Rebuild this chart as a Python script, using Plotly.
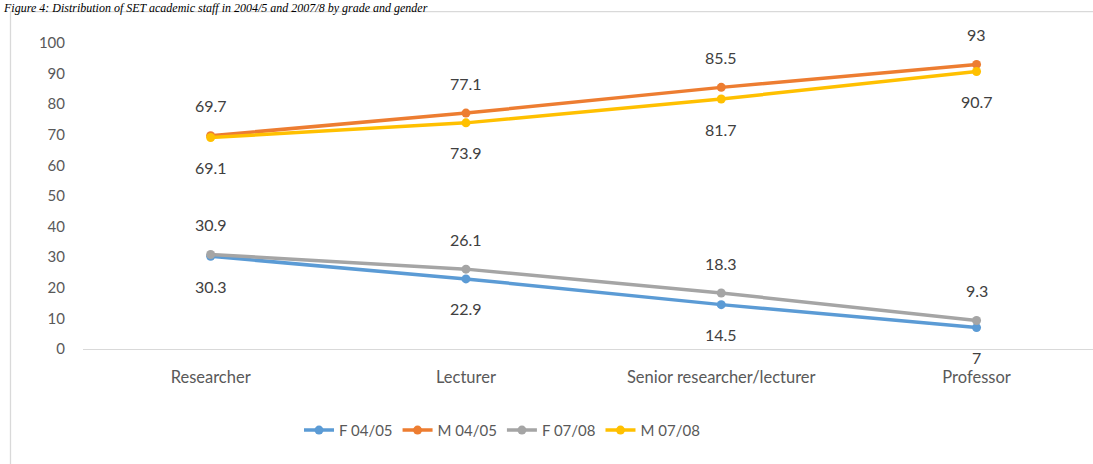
import plotly.graph_objects as go

categories = ["Researcher", "Lecturer", "Senior researcher/lecturer", "Professor"]
f_0405 = [30.3, 22.9, 14.5, 7]
m_0405 = [69.7, 77.1, 85.5, 93]
f_0708 = [30.9, 26.1, 18.3, 9.3]
m_0708 = [69.1, 73.9, 81.7, 90.7]
y_ticks = [0, 10, 20, 30, 40, 50, 60, 70, 80, 90, 100]
title_text = "Figure 4: Distribution of SET academic staff in 2004/5 and 2007/8 by grade and gender"

series = [
    ("F 04/05", f_0405, "#5B9BD5", -1),
    ("M 04/05", m_0405, "#ED7D31", 1),
    ("F 07/08", f_0708, "#A5A5A5", 1),
    ("M 07/08", m_0708, "#FFC000", -1),
]

W, H = 1093, 464
ml, mr, mt, mb = 83, 0, 43, 114.5
pw = W - ml - mr
ph = H - mt - mb
step = 255.3
xmax = -0.5 + pw / step

def px_x(p):
    return (p - ml) / pw

def px_y(p):
    return (H - mb - p) / ph

fig = go.Figure()
annotations = []
for name, vals, color, side in series:
    fig.add_trace(go.Scatter(
        x=categories, y=vals, name=name, mode="lines+markers",
        line=dict(color=color, width=3.5),
        marker=dict(color=color, size=9),
        cliponaxis=False,
    ))
    for c, v in zip(categories, vals):
        annotations.append(dict(
            x=c, y=v, xref="x", yref="y", text=f"{v:g}", showarrow=False,
            xanchor="center", yanchor="middle", yshift=30 * side,
            font=dict(family="Lato", size=16, color="#404040"),
        ))

annotations.append(dict(
    x=px_x(2), y=px_y(0), xref="paper", yref="paper", text=title_text,
    showarrow=False, xanchor="left", yanchor="top", borderpad=0,
    font=dict(family="Liberation Serif", size=12, color="#000000", style="italic"),
))

fig.update_layout(
    width=W, height=H,
    margin=dict(l=ml, r=mr, t=mt, b=mb, pad=0),
    paper_bgcolor="white", plot_bgcolor="white",
    showlegend=True,
    legend=dict(
        orientation="h", x=px_x(502), y=px_y(431), xanchor="center", yanchor="middle",
        font=dict(family="Lato", size=15, color="#595959"),
        itemwidth=30, traceorder="normal",
    ),
    xaxis=dict(
        type="category", range=[-0.5, xmax], showgrid=False, zeroline=False,
        showline=True, linecolor="#D9D9D9", linewidth=1.3, ticks="",
        tickfont=dict(family="Lato", size=16.5, color="#595959"),
        ticklabelstandoff=13,
    ),
    yaxis=dict(
        range=[0, 100], tickvals=y_ticks, showgrid=False, zeroline=False,
        showline=False, ticks="",
        tickfont=dict(family="Lato", size=15, color="#595959"),
        ticklabelstandoff=17,
    ),
    annotations=annotations,
    shapes=[dict(
        type="rect", xref="paper", yref="paper",
        x0=px_x(10.5), x1=px_x(1200), y0=px_y(600), y1=px_y(11.5),
        line=dict(color="#D9D9D9", width=1.3), fillcolor="rgba(0,0,0,0)", layer="below",
    )],
)

fig.write_html("out.html")
